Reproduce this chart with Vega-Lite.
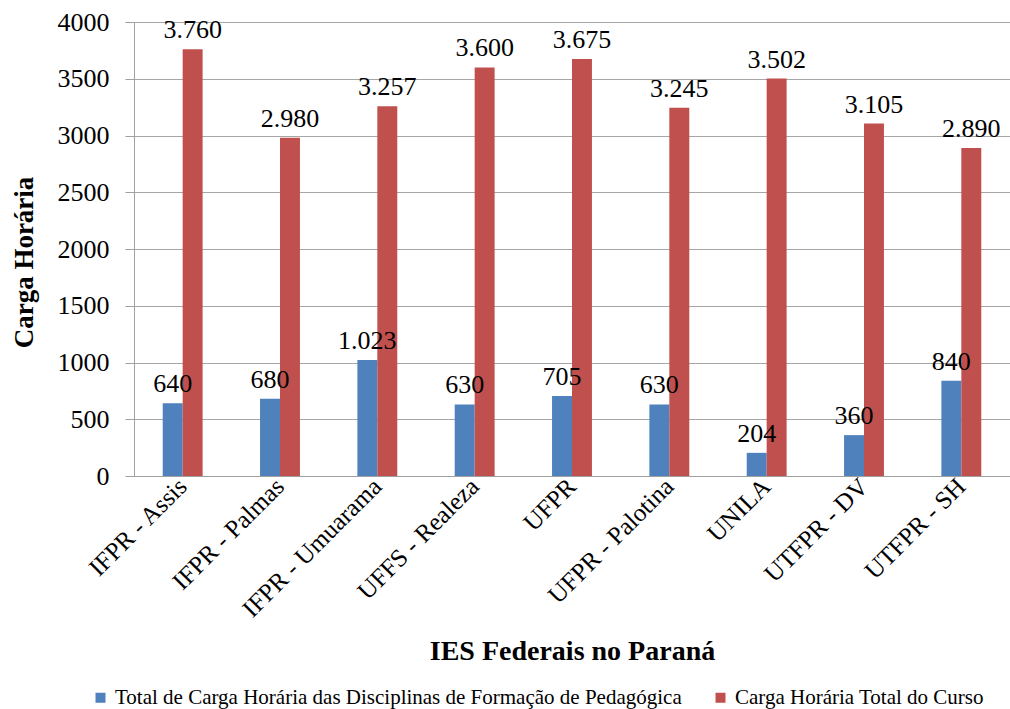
{
  "$schema": "https://vega.github.io/schema/vega-lite/v6.json",
  "width": 876,
  "height": 454,
  "autosize": "none",
  "padding": {"left": 134, "top": 22, "right": 0, "bottom": 233},
  "config": {
    "font": "Liberation Serif",
    "locale": {"number": {"decimal": ",", "thousands": ".", "grouping": [3], "currency": ["R$", ""]}},
    "view": {"stroke": null},
    "axis": {"labelFont": "Liberation Serif", "titleFont": "Liberation Serif", "labelColor": "#000", "titleColor": "#000", "domainColor": "#a0a0a0", "gridColor": "#a6a6a6", "tickColor": "#a0a0a0"},
    "legend": {"labelFont": "Liberation Serif", "padding": 0},
    "text": {"font": "Liberation Serif"}
  },
  "data": {
    "values": [
      {"ies": "IFPR - Assis", "serie": "Total de Carga Horária das Disciplinas de Formação de Pedagógica", "valor": 640},
      {"ies": "IFPR - Assis", "serie": "Carga Horária Total do Curso", "valor": 3760},
      {"ies": "IFPR - Palmas", "serie": "Total de Carga Horária das Disciplinas de Formação de Pedagógica", "valor": 680},
      {"ies": "IFPR - Palmas", "serie": "Carga Horária Total do Curso", "valor": 2980},
      {"ies": "IFPR - Umuarama", "serie": "Total de Carga Horária das Disciplinas de Formação de Pedagógica", "valor": 1023},
      {"ies": "IFPR - Umuarama", "serie": "Carga Horária Total do Curso", "valor": 3257},
      {"ies": "UFFS - Realeza", "serie": "Total de Carga Horária das Disciplinas de Formação de Pedagógica", "valor": 630},
      {"ies": "UFFS - Realeza", "serie": "Carga Horária Total do Curso", "valor": 3600},
      {"ies": "UFPR", "serie": "Total de Carga Horária das Disciplinas de Formação de Pedagógica", "valor": 705},
      {"ies": "UFPR", "serie": "Carga Horária Total do Curso", "valor": 3675},
      {"ies": "UFPR - Palotina", "serie": "Total de Carga Horária das Disciplinas de Formação de Pedagógica", "valor": 630},
      {"ies": "UFPR - Palotina", "serie": "Carga Horária Total do Curso", "valor": 3245},
      {"ies": "UNILA", "serie": "Total de Carga Horária das Disciplinas de Formação de Pedagógica", "valor": 204},
      {"ies": "UNILA", "serie": "Carga Horária Total do Curso", "valor": 3502},
      {"ies": "UTFPR - DV", "serie": "Total de Carga Horária das Disciplinas de Formação de Pedagógica", "valor": 360},
      {"ies": "UTFPR - DV", "serie": "Carga Horária Total do Curso", "valor": 3105},
      {"ies": "UTFPR - SH", "serie": "Total de Carga Horária das Disciplinas de Formação de Pedagógica", "valor": 840},
      {"ies": "UTFPR - SH", "serie": "Carga Horária Total do Curso", "valor": 2890}
    ]
  },
  "encoding": {
    "x": {
      "field": "ies", "type": "nominal", "sort": null,
      "scale": {"paddingInner": 0.59, "paddingOuter": 0.295},
      "axis": {
        "title": "IES Federais no Paraná", "titleFontSize": 28, "titleFontWeight": "bold",
        "titleY": 161, "titleBaseline": "top",
        "labelAngle": -45, "labelAlign": "right", "labelBaseline": "middle",
        "labelFontSize": 25, "labelPadding": 6, "labelLimit": 0, "ticks": false, "domainColor": "#a0a0a0"
      }
    },
    "xOffset": {"field": "serie", "type": "nominal", "sort": ["Total de Carga Horária das Disciplinas de Formação de Pedagógica", "Carga Horária Total do Curso"]},
    "y": {
      "field": "valor", "type": "quantitative",
      "scale": {"domain": [0, 4000], "nice": false},
      "axis": {
        "title": "Carga Horária", "titleFontSize": 27, "titleFontWeight": "bold", "titlePadding": 19, "titleY": 240,
        "values": [0, 500, 1000, 1500, 2000, 2500, 3000, 3500, 4000], "format": "d",
        "labelFontSize": 26, "labelPadding": 16, "tickSize": 9
      }
    }
  },
  "layer": [
    {
      "mark": {"type": "bar"},
      "encoding": {
        "color": {
          "field": "serie", "type": "nominal",
          "scale": {"domain": ["Total de Carga Horária das Disciplinas de Formação de Pedagógica", "Carga Horária Total do Curso"], "range": ["#4F81BD", "#C0504D"]},
          "legend": {
            "title": null, "orient": "none", "direction": "horizontal",
            "legendX": -44, "legendY": 665,
            "symbolType": "square", "symbolSize": 100, "symbolStrokeWidth": 0,
            "labelFont": "Liberation Serif",
            "labelFontSize": 21, "labelColor": "#000", "labelLimit": 0, "columnPadding": 28, "labelOffset": 4
          }
        }
      }
    },
    {
      "mark": {"type": "text", "baseline": "alphabetic", "dy": -11, "fontSize": 26, "color": "#000", "font": "Liberation Serif"},
      "encoding": {"text": {"field": "valor", "type": "quantitative", "format": ",d"}}
    }
  ]
}
